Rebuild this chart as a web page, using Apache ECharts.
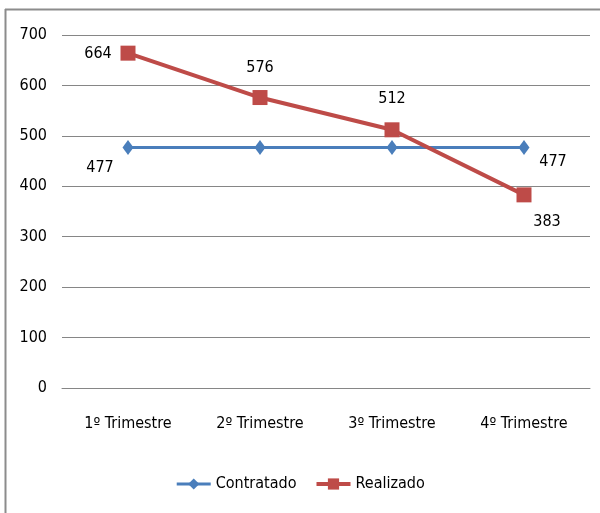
<!DOCTYPE html>
<html>
<head>
<meta charset="utf-8">
<script src="https://cdn.jsdelivr.net/npm/echarts@6/dist/echarts.min.js"></script>
<style>html,body{margin:0;padding:0;background:#fff}#c{width:600px;height:513px}</style>
</head>
<body>
<div id="c"></div>
<script>
var categories = ['1º Trimestre', '2º Trimestre', '3º Trimestre', '4º Trimestre'];
var contratado = [477, 477, 477, 477];
var realizado = [664, 576, 512, 383];
var yTicks = {min: 0, max: 700, interval: 100};

var FONT = "'Liberation Sans Narrow', 'DejaVu Sans Condensed', sans-serif";
var contratadoLabelOffsets = [[-28, 20], null, null, [29, 14]];
var realizadoLabelOffsets = [[-30, 1], [0, -30], [0, -31], [23, 27]];

function withLabels(values, offsets) {
  return values.map(function (v, i) {
    var o = offsets[i];
    if (!o) return {value: v, label: {show: false}};
    return {value: v, label: {show: true, position: 'inside', offset: o}};
  });
}

var chart = echarts.init(document.getElementById('c'), null, {renderer: 'canvas'});
chart.setOption({
  animation: false,
  backgroundColor: '#fff',
  textStyle: {fontFamily: FONT},
  grid: {left: 62, right: 10, top: 35, bottom: 125, containLabel: false},
  graphic: [
    {type: 'line', shape: {x1: 5, y1: 9.5, x2: 600, y2: 9.5}, style: {stroke: '#8c8c8c', lineWidth: 2}},
    {type: 'line', shape: {x1: 5.5, y1: 9, x2: 5.5, y2: 513}, style: {stroke: '#8c8c8c', lineWidth: 2}}
  ],
  legend: {
    bottom: 16, left: 'center',
    itemWidth: 34, itemHeight: 14, itemGap: 18,
    textStyle: {fontFamily: FONT, fontSize: 16, color: '#000'},
    data: [
      {name: 'Contratado', lineStyle: {width: 3}},
      {name: 'Realizado', lineStyle: {width: 4}}
    ]
  },
  xAxis: {
    type: 'category', data: categories, boundaryGap: true,
    axisLine: {show: true, lineStyle: {color: '#868686', width: 1}},
    axisTick: {show: false},
    axisLabel: {fontFamily: FONT, fontSize: 16, color: '#000', margin: 28}
  },
  yAxis: {
    type: 'value', min: yTicks.min, max: yTicks.max, interval: yTicks.interval,
    axisLine: {show: false}, axisTick: {show: false},
    splitLine: {lineStyle: {color: '#868686', width: 1}},
    axisLabel: {fontFamily: FONT, fontSize: 16, color: '#000', margin: 15}
  },
  series: [
    {
      name: 'Contratado', type: 'line',
      data: withLabels(contratado, contratadoLabelOffsets),
      symbol: 'diamond', symbolSize: [11, 15],
      itemStyle: {color: '#4a7ebb'},
      lineStyle: {color: '#4a7ebb', width: 3},
      label: {fontFamily: FONT, fontSize: 16, color: '#000'},
      z: 2
    },
    {
      name: 'Realizado', type: 'line',
      data: withLabels(realizado, realizadoLabelOffsets),
      symbol: 'rect', symbolSize: 15,
      itemStyle: {color: '#be4b48'},
      lineStyle: {color: '#be4b48', width: 4},
      label: {fontFamily: FONT, fontSize: 16, color: '#000'},
      z: 3
    }
  ]
});
</script>
</body>
</html>
